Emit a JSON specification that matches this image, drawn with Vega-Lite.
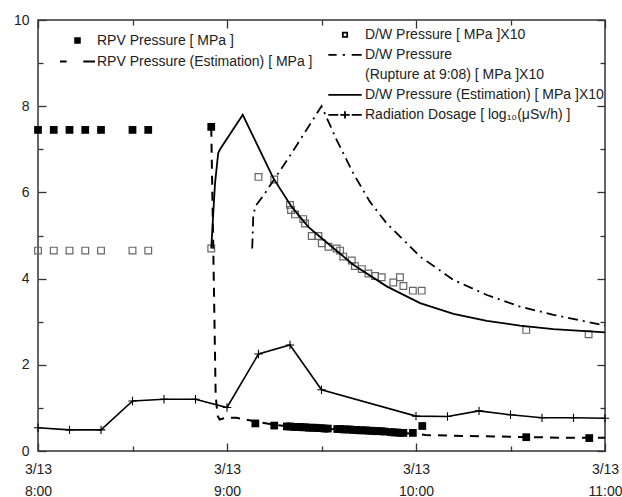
{
  "$schema": "https://vega.github.io/schema/vega-lite/v6.json",
  "width": 567,
  "height": 431,
  "autosize": {"type": "none"},
  "padding": {"left": 38, "top": 20, "right": 17, "bottom": 46},
  "background": "white",
  "config": {
    "view": {"stroke": "#333", "strokeWidth": 1.5},
    "font": "Liberation Sans",
    "axis": {"labelFont": "Liberation Sans", "labelFontSize": 14, "labelColor": "#222", "tickColor": "#333", "tickWidth": 1.3, "domain": false, "grid": false},
    "legend": {"labelFont": "Liberation Sans", "labelFontSize": 14, "labelColor": "#222", "labelLimit": 0, "padding": 0, "rowPadding": 0, "symbolOffset": 0}
  },
  "data": {"values": [
    {"s": "rpv", "t": "2011-03-13T08:00", "v": 7.45},
    {"s": "rpv", "t": "2011-03-13T08:05", "v": 7.45},
    {"s": "rpv", "t": "2011-03-13T08:10", "v": 7.45},
    {"s": "rpv", "t": "2011-03-13T08:15", "v": 7.45},
    {"s": "rpv", "t": "2011-03-13T08:20", "v": 7.45},
    {"s": "rpv", "t": "2011-03-13T08:30", "v": 7.45},
    {"s": "rpv", "t": "2011-03-13T08:35", "v": 7.45},
    {"s": "rpv", "t": "2011-03-13T08:55", "v": 7.52},
    {"s": "rpv", "t": "2011-03-13T09:09", "v": 0.64},
    {"s": "rpv", "t": "2011-03-13T09:15", "v": 0.59},
    {"s": "rpv", "t": "2011-03-13T09:19", "v": 0.57},
    {"s": "rpv", "t": "2011-03-13T09:20", "v": 0.57},
    {"s": "rpv", "t": "2011-03-13T09:21", "v": 0.56},
    {"s": "rpv", "t": "2011-03-13T09:22", "v": 0.56},
    {"s": "rpv", "t": "2011-03-13T09:23", "v": 0.56},
    {"s": "rpv", "t": "2011-03-13T09:24", "v": 0.55},
    {"s": "rpv", "t": "2011-03-13T09:25", "v": 0.55},
    {"s": "rpv", "t": "2011-03-13T09:26", "v": 0.54},
    {"s": "rpv", "t": "2011-03-13T09:27", "v": 0.54},
    {"s": "rpv", "t": "2011-03-13T09:28", "v": 0.54},
    {"s": "rpv", "t": "2011-03-13T09:29", "v": 0.53},
    {"s": "rpv", "t": "2011-03-13T09:30", "v": 0.53},
    {"s": "rpv", "t": "2011-03-13T09:31", "v": 0.52},
    {"s": "rpv", "t": "2011-03-13T09:32", "v": 0.52},
    {"s": "rpv", "t": "2011-03-13T09:35", "v": 0.51},
    {"s": "rpv", "t": "2011-03-13T09:36", "v": 0.51},
    {"s": "rpv", "t": "2011-03-13T09:37", "v": 0.50},
    {"s": "rpv", "t": "2011-03-13T09:38", "v": 0.50},
    {"s": "rpv", "t": "2011-03-13T09:39", "v": 0.50},
    {"s": "rpv", "t": "2011-03-13T09:40", "v": 0.49},
    {"s": "rpv", "t": "2011-03-13T09:41", "v": 0.49},
    {"s": "rpv", "t": "2011-03-13T09:42", "v": 0.48},
    {"s": "rpv", "t": "2011-03-13T09:43", "v": 0.48},
    {"s": "rpv", "t": "2011-03-13T09:44", "v": 0.48},
    {"s": "rpv", "t": "2011-03-13T09:45", "v": 0.47},
    {"s": "rpv", "t": "2011-03-13T09:46", "v": 0.47},
    {"s": "rpv", "t": "2011-03-13T09:47", "v": 0.46},
    {"s": "rpv", "t": "2011-03-13T09:48", "v": 0.46},
    {"s": "rpv", "t": "2011-03-13T09:49", "v": 0.46},
    {"s": "rpv", "t": "2011-03-13T09:50", "v": 0.45},
    {"s": "rpv", "t": "2011-03-13T09:52", "v": 0.44},
    {"s": "rpv", "t": "2011-03-13T09:53", "v": 0.43},
    {"s": "rpv", "t": "2011-03-13T09:54", "v": 0.43},
    {"s": "rpv", "t": "2011-03-13T09:55", "v": 0.42},
    {"s": "rpv", "t": "2011-03-13T09:56", "v": 0.42},
    {"s": "rpv", "t": "2011-03-13T09:59", "v": 0.42},
    {"s": "rpv", "t": "2011-03-13T10:02", "v": 0.58},
    {"s": "rpv", "t": "2011-03-13T10:35", "v": 0.32},
    {"s": "rpv", "t": "2011-03-13T10:55", "v": 0.30},
    {"s": "rpvEst", "t": "2011-03-13T08:55:00", "v": 7.5},
    {"s": "rpvEst", "t": "2011-03-13T08:55:48", "v": 4.0},
    {"s": "rpvEst", "t": "2011-03-13T08:56:24", "v": 1.3},
    {"s": "rpvEst", "t": "2011-03-13T08:57:00", "v": 0.82},
    {"s": "rpvEst", "t": "2011-03-13T08:57:40", "v": 0.73},
    {"s": "rpvEst", "t": "2011-03-13T08:58:30", "v": 0.75},
    {"s": "rpvEst", "t": "2011-03-13T09:00", "v": 0.77},
    {"s": "rpvEst", "t": "2011-03-13T09:03", "v": 0.77},
    {"s": "rpvEst", "t": "2011-03-13T09:06", "v": 0.73},
    {"s": "rpvEst", "t": "2011-03-13T09:10", "v": 0.67},
    {"s": "rpvEst", "t": "2011-03-13T09:15", "v": 0.61},
    {"s": "rpvEst", "t": "2011-03-13T09:20", "v": 0.57},
    {"s": "rpvEst", "t": "2011-03-13T09:30", "v": 0.52},
    {"s": "rpvEst", "t": "2011-03-13T09:40", "v": 0.48},
    {"s": "rpvEst", "t": "2011-03-13T09:50", "v": 0.44},
    {"s": "rpvEst", "t": "2011-03-13T10:00", "v": 0.40},
    {"s": "rpvEst", "t": "2011-03-13T10:03", "v": 0.37},
    {"s": "rpvEst", "t": "2011-03-13T10:15", "v": 0.35},
    {"s": "rpvEst", "t": "2011-03-13T10:30", "v": 0.33},
    {"s": "rpvEst", "t": "2011-03-13T10:45", "v": 0.31},
    {"s": "rpvEst", "t": "2011-03-13T11:00", "v": 0.31},
    {"s": "dw", "t": "2011-03-13T08:00", "v": 4.65},
    {"s": "dw", "t": "2011-03-13T08:05", "v": 4.65},
    {"s": "dw", "t": "2011-03-13T08:10", "v": 4.65},
    {"s": "dw", "t": "2011-03-13T08:15", "v": 4.65},
    {"s": "dw", "t": "2011-03-13T08:20", "v": 4.65},
    {"s": "dw", "t": "2011-03-13T08:30", "v": 4.65},
    {"s": "dw", "t": "2011-03-13T08:35", "v": 4.65},
    {"s": "dw", "t": "2011-03-13T08:55", "v": 4.70},
    {"s": "dw", "t": "2011-03-13T09:10", "v": 6.36},
    {"s": "dw", "t": "2011-03-13T09:15", "v": 6.30},
    {"s": "dw", "t": "2011-03-13T09:20:00", "v": 5.71},
    {"s": "dw", "t": "2011-03-13T09:20:20", "v": 5.59},
    {"s": "dw", "t": "2011-03-13T09:21:36", "v": 5.49},
    {"s": "dw", "t": "2011-03-13T09:24:12", "v": 5.38},
    {"s": "dw", "t": "2011-03-13T09:24:48", "v": 5.28},
    {"s": "dw", "t": "2011-03-13T09:26:54", "v": 4.99},
    {"s": "dw", "t": "2011-03-13T09:29:00", "v": 4.99},
    {"s": "dw", "t": "2011-03-13T09:30:06", "v": 4.82},
    {"s": "dw", "t": "2011-03-13T09:32:12", "v": 4.74},
    {"s": "dw", "t": "2011-03-13T09:34:48", "v": 4.70},
    {"s": "dw", "t": "2011-03-13T09:35:54", "v": 4.65},
    {"s": "dw", "t": "2011-03-13T09:36:54", "v": 4.51},
    {"s": "dw", "t": "2011-03-13T09:39:36", "v": 4.42},
    {"s": "dw", "t": "2011-03-13T09:40:36", "v": 4.29},
    {"s": "dw", "t": "2011-03-13T09:42:48", "v": 4.22},
    {"s": "dw", "t": "2011-03-13T09:44:54", "v": 4.12},
    {"s": "dw", "t": "2011-03-13T09:47:00", "v": 4.06},
    {"s": "dw", "t": "2011-03-13T09:49:06", "v": 4.03},
    {"s": "dw", "t": "2011-03-13T09:52:48", "v": 3.91},
    {"s": "dw", "t": "2011-03-13T09:54:54", "v": 4.03},
    {"s": "dw", "t": "2011-03-13T09:56:00", "v": 3.83},
    {"s": "dw", "t": "2011-03-13T09:59:00", "v": 3.72},
    {"s": "dw", "t": "2011-03-13T10:01:48", "v": 3.72},
    {"s": "dw", "t": "2011-03-13T10:35:00", "v": 2.81},
    {"s": "dw", "t": "2011-03-13T10:54:48", "v": 2.71},
    {"s": "dwRup", "t": "2011-03-13T09:08:00", "v": 4.70},
    {"s": "dwRup", "t": "2011-03-13T09:08:20", "v": 5.45},
    {"s": "dwRup", "t": "2011-03-13T09:09:00", "v": 5.68},
    {"s": "dwRup", "t": "2011-03-13T09:11:30", "v": 5.92},
    {"s": "dwRup", "t": "2011-03-13T09:20:00", "v": 6.85},
    {"s": "dwRup", "t": "2011-03-13T09:30:00", "v": 8.0},
    {"s": "dwRup", "t": "2011-03-13T09:34:48", "v": 7.22},
    {"s": "dwRup", "t": "2011-03-13T09:40:06", "v": 6.44},
    {"s": "dwRup", "t": "2011-03-13T09:45:24", "v": 5.78},
    {"s": "dwRup", "t": "2011-03-13T09:50:42", "v": 5.28},
    {"s": "dwRup", "t": "2011-03-13T09:56:00", "v": 4.90},
    {"s": "dwRup", "t": "2011-03-13T10:01:18", "v": 4.51},
    {"s": "dwRup", "t": "2011-03-13T10:11:54", "v": 3.97},
    {"s": "dwRup", "t": "2011-03-13T10:22:30", "v": 3.62},
    {"s": "dwRup", "t": "2011-03-13T10:33:00", "v": 3.35},
    {"s": "dwRup", "t": "2011-03-13T10:43:36", "v": 3.16},
    {"s": "dwRup", "t": "2011-03-13T10:54:12", "v": 3.00},
    {"s": "dwRup", "t": "2011-03-13T11:00:00", "v": 2.91},
    {"s": "dwEst", "t": "2011-03-13T08:55:00", "v": 4.70},
    {"s": "dwEst", "t": "2011-03-13T08:55:42", "v": 5.59},
    {"s": "dwEst", "t": "2011-03-13T08:56:12", "v": 6.21},
    {"s": "dwEst", "t": "2011-03-13T08:57:12", "v": 6.91},
    {"s": "dwEst", "t": "2011-03-13T08:57:48", "v": 7.00},
    {"s": "dwEst", "t": "2011-03-13T09:05:00", "v": 7.80},
    {"s": "dwEst", "t": "2011-03-13T09:14:42", "v": 6.33},
    {"s": "dwEst", "t": "2011-03-13T09:20:30", "v": 5.67},
    {"s": "dwEst", "t": "2011-03-13T09:25:48", "v": 5.20},
    {"s": "dwEst", "t": "2011-03-13T09:29:30", "v": 4.97},
    {"s": "dwEst", "t": "2011-03-13T09:40:06", "v": 4.32},
    {"s": "dwEst", "t": "2011-03-13T09:50:42", "v": 3.82},
    {"s": "dwEst", "t": "2011-03-13T10:01:18", "v": 3.43},
    {"s": "dwEst", "t": "2011-03-13T10:11:54", "v": 3.18},
    {"s": "dwEst", "t": "2011-03-13T10:22:30", "v": 3.02},
    {"s": "dwEst", "t": "2011-03-13T10:33:00", "v": 2.91},
    {"s": "dwEst", "t": "2011-03-13T10:43:36", "v": 2.83},
    {"s": "dwEst", "t": "2011-03-13T11:00:00", "v": 2.75},
    {"s": "rad", "t": "2011-03-13T08:00", "v": 0.54},
    {"s": "rad", "t": "2011-03-13T08:10", "v": 0.49},
    {"s": "rad", "t": "2011-03-13T08:20", "v": 0.49},
    {"s": "rad", "t": "2011-03-13T08:30", "v": 1.16},
    {"s": "rad", "t": "2011-03-13T08:40", "v": 1.20},
    {"s": "rad", "t": "2011-03-13T08:50", "v": 1.20},
    {"s": "rad", "t": "2011-03-13T09:00", "v": 1.01},
    {"s": "rad", "t": "2011-03-13T09:10", "v": 2.25},
    {"s": "rad", "t": "2011-03-13T09:20", "v": 2.46},
    {"s": "rad", "t": "2011-03-13T09:30", "v": 1.42},
    {"s": "rad", "t": "2011-03-13T10:00", "v": 0.81},
    {"s": "rad", "t": "2011-03-13T10:10", "v": 0.80},
    {"s": "rad", "t": "2011-03-13T10:20", "v": 0.93},
    {"s": "rad", "t": "2011-03-13T10:30", "v": 0.84},
    {"s": "rad", "t": "2011-03-13T10:40", "v": 0.77},
    {"s": "rad", "t": "2011-03-13T10:50", "v": 0.77},
    {"s": "rad", "t": "2011-03-13T11:00", "v": 0.76}
  ]},
  "resolve": {"axis": {"x": "independent", "y": "independent"}, "scale": {"shape": "independent"}},
  "layer": [
    {
      "transform": [{"filter": "false"}],
      "mark": {"type": "point", "filled": false, "stroke": "#000", "opacity": 1},
      "encoding": {
        "x": {"field": "t", "type": "temporal", "scale": {"domain": [{"year": 2011, "month": 3, "date": 13, "hours": 8}, {"year": 2011, "month": 3, "date": 13, "hours": 11}]}, "axis": null},
        "y": {"field": "v", "type": "quantitative", "scale": {"domain": [0, 10], "nice": false}, "axis": null},
        "shape": {"field": "s", "type": "nominal",
          "scale": {"domain": ["dw", "dwRup", "dwRup2", "dwEst", "rad"], "range": ["M-0.13,-0.13H0.13V0.13H-0.13Z", "M-1,0H-0.5M-0.14,0H0M0.4,0H1", "M0,0", "M-1,0H1", "M-1,0H-0.4M-0.28,0H0.28M0,-0.22V0.22M0.4,0H1"]},
          "legend": {"title": null, "orient": "none", "legendX": 289, "legendY": 5, "direction": "vertical", "clipHeight": 19.6, "symbolSize": 1115, "symbolStrokeWidth": 1.8, "symbolStrokeColor": "#000", "symbolOpacity": 1, "labelOffset": 2,
            "labelExpr": "datum.value == 'dw' ? 'D/W Pressure [ MPa ]X10' : datum.value == 'dwRup' ? 'D/W Pressure' : datum.value == 'dwRup2' ? '(Rupture at 9:08) [ MPa ]X10' : datum.value == 'dwEst' ? 'D/W Pressure (Estimation) [ MPa ]X10' : 'Radiation Dosage [ log₁₀(μSv/h) ]'"}}
      }
    },
    {
      "transform": [{"filter": "false"}],
      "mark": {"type": "point", "filled": false, "stroke": "#000", "opacity": 1},
      "encoding": {
        "x": {"field": "t", "type": "temporal", "scale": {"domain": [{"year": 2011, "month": 3, "date": 13, "hours": 8}, {"year": 2011, "month": 3, "date": 13, "hours": 11}]}, "axis": null},
        "y": {"field": "v", "type": "quantitative", "scale": {"domain": [0, 10], "nice": false}, "axis": null},
        "shape": {"field": "s", "type": "nominal",
          "scale": {"domain": ["rpv", "rpvEst"], "range": ["M-0.13,-0.13H0.13V0.13H-0.13ZM-0.13,-0.065H0.13M-0.13,0H0.13M-0.13,0.065H0.13", "M-1,0H-0.62M0.33,0H1"]},
          "legend": {"title": null, "orient": "none", "legendX": 21, "legendY": 10, "direction": "vertical", "clipHeight": 21, "symbolSize": 1225, "symbolStrokeWidth": 2, "symbolStrokeColor": "#000", "symbolOpacity": 1, "labelOffset": 1,
            "labelExpr": "datum.value == 'rpv' ? 'RPV Pressure [ MPa ]' : 'RPV Pressure (Estimation) [ MPa ]'"}}
      }
    },
    {
      "transform": [{"filter": "datum.s == 'dw'"}],
      "mark": {"type": "point", "shape": "square", "filled": false, "size": 45, "strokeWidth": 1.2, "opacity": 1},
      "encoding": {
        "x": {"field": "t", "type": "temporal", "scale": {"domain": [{"year": 2011, "month": 3, "date": 13, "hours": 8}, {"year": 2011, "month": 3, "date": 13, "hours": 11}]},
          "axis": {"orient": "bottom", "title": null, "domain": false, "tickSize": -8, "labelPadding": 19, "labelFlush": false, "labelOverlap": false, "labelLineHeight": 22, "labelBaseline": "top",
            "values": [{"year": 2011, "month": 3, "date": 13, "hours": 8}, {"year": 2011, "month": 3, "date": 13, "hours": 9}, {"year": 2011, "month": 3, "date": 13, "hours": 10}, {"year": 2011, "month": 3, "date": 13, "hours": 11}],
            "labelExpr": "['3/13', timeFormat(datum.value, '%-H:%M')]"}},
        "y": {"field": "v", "type": "quantitative", "scale": {"domain": [0, 10], "nice": false},
          "axis": {"orient": "left", "title": null, "domain": false, "tickSize": -8, "labelPadding": 17, "values": [0, 2, 4, 6, 8, 10]}},
        "stroke": {"field": "s", "type": "nominal", "scale": {"domain": ["dw", "dwRup", "dwRup2", "dwEst", "rad"], "range": ["#666", "#000", "#000", "#000", "#000"]}, "legend": null}
      }
    },
    {
      "transform": [{"filter": "datum.s == 'rad'"}],
      "mark": {"type": "line", "strokeWidth": 1.6},
      "encoding": {
        "x": {"field": "t", "type": "temporal", "scale": {"domain": [{"year": 2011, "month": 3, "date": 13, "hours": 8}, {"year": 2011, "month": 3, "date": 13, "hours": 11}]},
          "axis": {"orient": "bottom", "title": null, "domain": false, "tickSize": -5, "labels": false,
            "values": [{"year": 2011, "month": 3, "date": 13, "hours": 8, "minutes": 30}, {"year": 2011, "month": 3, "date": 13, "hours": 9, "minutes": 30}, {"year": 2011, "month": 3, "date": 13, "hours": 10, "minutes": 30}]}},
        "y": {"field": "v", "type": "quantitative", "scale": {"domain": [0, 10], "nice": false},
          "axis": {"orient": "left", "title": null, "domain": false, "tickSize": -5, "labels": false, "values": [1, 3, 5, 7, 9]}},
        "stroke": {"field": "s", "type": "nominal", "scale": {"domain": ["dw", "dwRup", "dwRup2", "dwEst", "rad"], "range": ["#666", "#000", "#000", "#000", "#000"]}, "legend": null}
      }
    },
    {
      "transform": [{"filter": "datum.s == 'rad' && datum.t != '2011-03-13T08:00' && datum.t != '2011-03-13T11:00'"}],
      "mark": {"type": "point", "shape": "M-1,0H1M0,-1V1", "filled": false, "size": 70, "strokeWidth": 1.1, "opacity": 1},
      "encoding": {
        "x": {"field": "t", "type": "temporal", "scale": {"domain": [{"year": 2011, "month": 3, "date": 13, "hours": 8}, {"year": 2011, "month": 3, "date": 13, "hours": 11}]},
          "axis": {"orient": "top", "title": null, "domain": false, "tickSize": -8, "labels": false,
            "values": [{"year": 2011, "month": 3, "date": 13, "hours": 8}, {"year": 2011, "month": 3, "date": 13, "hours": 9}, {"year": 2011, "month": 3, "date": 13, "hours": 10}, {"year": 2011, "month": 3, "date": 13, "hours": 11}]}},
        "y": {"field": "v", "type": "quantitative", "scale": {"domain": [0, 10], "nice": false},
          "axis": {"orient": "right", "title": null, "domain": false, "tickSize": -8, "labels": false, "values": [0, 2, 4, 6, 8, 10]}},
        "stroke": {"field": "s", "type": "nominal", "scale": {"domain": ["dw", "dwRup", "dwRup2", "dwEst", "rad"], "range": ["#666", "#000", "#000", "#000", "#000"]}, "legend": null}
      }
    },
    {
      "transform": [{"filter": "datum.s == 'dwRup'"}],
      "mark": {"type": "line", "strokeWidth": 1.8, "strokeDash": [10, 5, 2, 5]},
      "encoding": {
        "x": {"field": "t", "type": "temporal", "scale": {"domain": [{"year": 2011, "month": 3, "date": 13, "hours": 8}, {"year": 2011, "month": 3, "date": 13, "hours": 11}]},
          "axis": {"orient": "top", "title": null, "domain": false, "tickSize": -5, "labels": false,
            "values": [{"year": 2011, "month": 3, "date": 13, "hours": 8, "minutes": 30}, {"year": 2011, "month": 3, "date": 13, "hours": 9, "minutes": 30}, {"year": 2011, "month": 3, "date": 13, "hours": 10, "minutes": 30}]}},
        "y": {"field": "v", "type": "quantitative", "scale": {"domain": [0, 10], "nice": false},
          "axis": {"orient": "right", "title": null, "domain": false, "tickSize": -5, "labels": false, "values": [1, 3, 5, 7, 9]}},
        "stroke": {"field": "s", "type": "nominal", "scale": {"domain": ["dw", "dwRup", "dwRup2", "dwEst", "rad"], "range": ["#666", "#000", "#000", "#000", "#000"]}, "legend": null}
      }
    },
    {
      "transform": [{"filter": "datum.s == 'dwEst'"}],
      "mark": {"type": "line", "strokeWidth": 1.8},
      "encoding": {
        "x": {"field": "t", "type": "temporal", "scale": {"domain": [{"year": 2011, "month": 3, "date": 13, "hours": 8}, {"year": 2011, "month": 3, "date": 13, "hours": 11}]}, "axis": null},
        "y": {"field": "v", "type": "quantitative", "scale": {"domain": [0, 10], "nice": false}, "axis": null},
        "stroke": {"field": "s", "type": "nominal", "scale": {"domain": ["dw", "dwRup", "dwRup2", "dwEst", "rad"], "range": ["#666", "#000", "#000", "#000", "#000"]}, "legend": null}
      }
    },
    {
      "transform": [{"filter": "datum.s == 'rpv'"}],
      "mark": {"type": "point", "shape": "square", "filled": true, "size": 60, "opacity": 1},
      "encoding": {
        "x": {"field": "t", "type": "temporal", "scale": {"domain": [{"year": 2011, "month": 3, "date": 13, "hours": 8}, {"year": 2011, "month": 3, "date": 13, "hours": 11}]}, "axis": null},
        "y": {"field": "v", "type": "quantitative", "scale": {"domain": [0, 10], "nice": false}, "axis": null},
        "color": {"field": "s", "type": "nominal", "scale": {"domain": ["rpv", "rpvEst"], "range": ["#000", "#000"]}, "legend": null}
      }
    },
    {
      "transform": [{"filter": "datum.s == 'rpvEst'"}],
      "mark": {"type": "line", "strokeWidth": 2, "strokeDash": [9, 7]},
      "encoding": {
        "x": {"field": "t", "type": "temporal", "scale": {"domain": [{"year": 2011, "month": 3, "date": 13, "hours": 8}, {"year": 2011, "month": 3, "date": 13, "hours": 11}]}, "axis": null},
        "y": {"field": "v", "type": "quantitative", "scale": {"domain": [0, 10], "nice": false}, "axis": null},
        "color": {"field": "s", "type": "nominal", "scale": {"domain": ["rpv", "rpvEst"], "range": ["#000", "#000"]}, "legend": null}
      }
    }
  ]
}
